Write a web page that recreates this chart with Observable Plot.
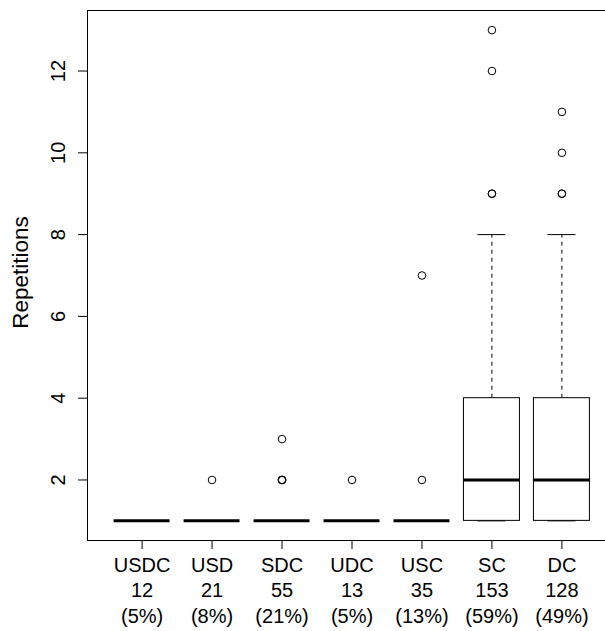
<!DOCTYPE html>
<html>
<head>
<meta charset="utf-8">
<script src="https://cdn.jsdelivr.net/npm/d3@7"></script>
<script src="https://cdn.jsdelivr.net/npm/@observablehq/plot@0.6"></script>
<style>
  html, body { margin: 0; padding: 0; background: #fff; }
  body { width: 605px; height: 631px; overflow: hidden; }
  svg { font-family: "Liberation Sans", Arial, Helvetica, sans-serif; }
</style>
</head>
<body>
<div id="chart"></div>
<script>
// ---- data ----
const categories = ["USDC", "USD", "SDC", "UDC", "USC", "SC", "DC"];
const counts = [12, 21, 55, 13, 35, 153, 128];
const percents = [5, 8, 21, 5, 13, 59, 49];
const whiskerLow = [1, 1, 1, 1, 1, 1, 1];
const q1 = [1, 1, 1, 1, 1, 1, 1];
const medians = [1, 1, 1, 1, 1, 2, 2];
const q3 = [1, 1, 1, 1, 1, 4, 4];
const whiskerHigh = [1, 1, 1, 1, 1, 8, 8];
const outliers = [[], [2], [2, 2, 2, 3], [2], [2, 7], [9, 9, 12, 13], [9, 9, 10, 11]];
const yTicks = [2, 4, 6, 8, 10, 12];
const yLabel = "Repetitions";

// ---- derived tables ----
const boxes = categories.map((c, i) => ({
  pos: i + 1, cat: c, lo: whiskerLow[i], q1: q1[i], med: medians[i], q3: q3[i], hi: whiskerHigh[i]
}));
const points = outliers.flatMap((vals, i) => vals.map(v => ({pos: i + 1, value: v})));
const tickLabels = categories.map((c, i) => `${c}\n${counts[i]}\n(${percents[i]}%)`);

// R-style extended limits (4% padding)
const n = categories.length;
const xPad = n * 0.04;
const yMin = d3.min([...whiskerLow, ...outliers.flat()]);
const yMax = d3.max([...whiskerHigh, ...outliers.flat()]);
const yPad = (yMax - yMin) * 0.04;

const halfBox = 0.4, halfStaple = 0.2;

const chart = Plot.plot({
  width: 605,
  height: 631,
  marginLeft: 87,
  marginTop: 10,
  marginBottom: 91,
  marginRight: -11,
  style: {fontFamily: '"Liberation Sans", Arial, Helvetica, sans-serif', fontSize: "20px", background: "#fff", color: "#000"},
  x: {type: "linear", domain: [0.5 - xPad, n + 0.5 + xPad], range: [87, 616]},
  y: {domain: [yMin - yPad, yMax + yPad]},
  marks: [
    Plot.frame({stroke: "#000", strokeWidth: 1}),
    // whiskers (dashed)
    Plot.ruleX(boxes, {x: "pos", y1: "q3", y2: "hi", stroke: "#000", strokeDasharray: "4,4", strokeWidth: 1}),
    Plot.ruleX(boxes, {x: "pos", y1: "q1", y2: "lo", stroke: "#000", strokeDasharray: "4,4", strokeWidth: 1}),
    // staples
    Plot.ruleY(boxes, {y: "hi", x1: d => d.pos - halfStaple, x2: d => d.pos + halfStaple, stroke: "#000", strokeWidth: 1}),
    Plot.ruleY(boxes, {y: "lo", x1: d => d.pos - halfStaple, x2: d => d.pos + halfStaple, stroke: "#000", strokeWidth: 1}),
    // boxes
    Plot.rect(boxes, {x1: d => d.pos - halfBox, x2: d => d.pos + halfBox, y1: "q1", y2: "q3", fill: "#fff", stroke: "#000", strokeWidth: 1}),
    // medians
    Plot.ruleY(boxes, {y: "med", x1: d => d.pos - halfBox, x2: d => d.pos + halfBox, stroke: "#000", strokeWidth: 3}),
    // outliers
    Plot.dot(points, {x: "pos", y: "value", r: 3.8, stroke: "#000", fill: "none", strokeWidth: 1}),
    // axes
    Plot.axisX({ticks: d3.range(1, n + 1), tickSize: 9, tickPadding: 4, tickFormat: d => tickLabels[d - 1],
      fontSize: 20, lineHeight: 1.28, label: null, stroke: "#000", fill: "#000"}),
    Plot.axisY({ticks: yTicks, tickSize: 9, tickFormat: () => "", label: null, stroke: "#000"}),
    Plot.text(yTicks, {y: d => d, text: d => String(d), frameAnchor: "left", dx: -29, rotate: -90,
      textAnchor: "middle", lineAnchor: "middle", fontSize: 20, fill: "#000"}),
    Plot.text([yLabel], {text: d => d, frameAnchor: "left", dx: -67, dy: -3, rotate: -90,
      textAnchor: "middle", lineAnchor: "middle", fontSize: 22.5, fill: "#000"})
  ]
});
document.getElementById("chart").appendChild(chart);
</script>
</body>
</html>
